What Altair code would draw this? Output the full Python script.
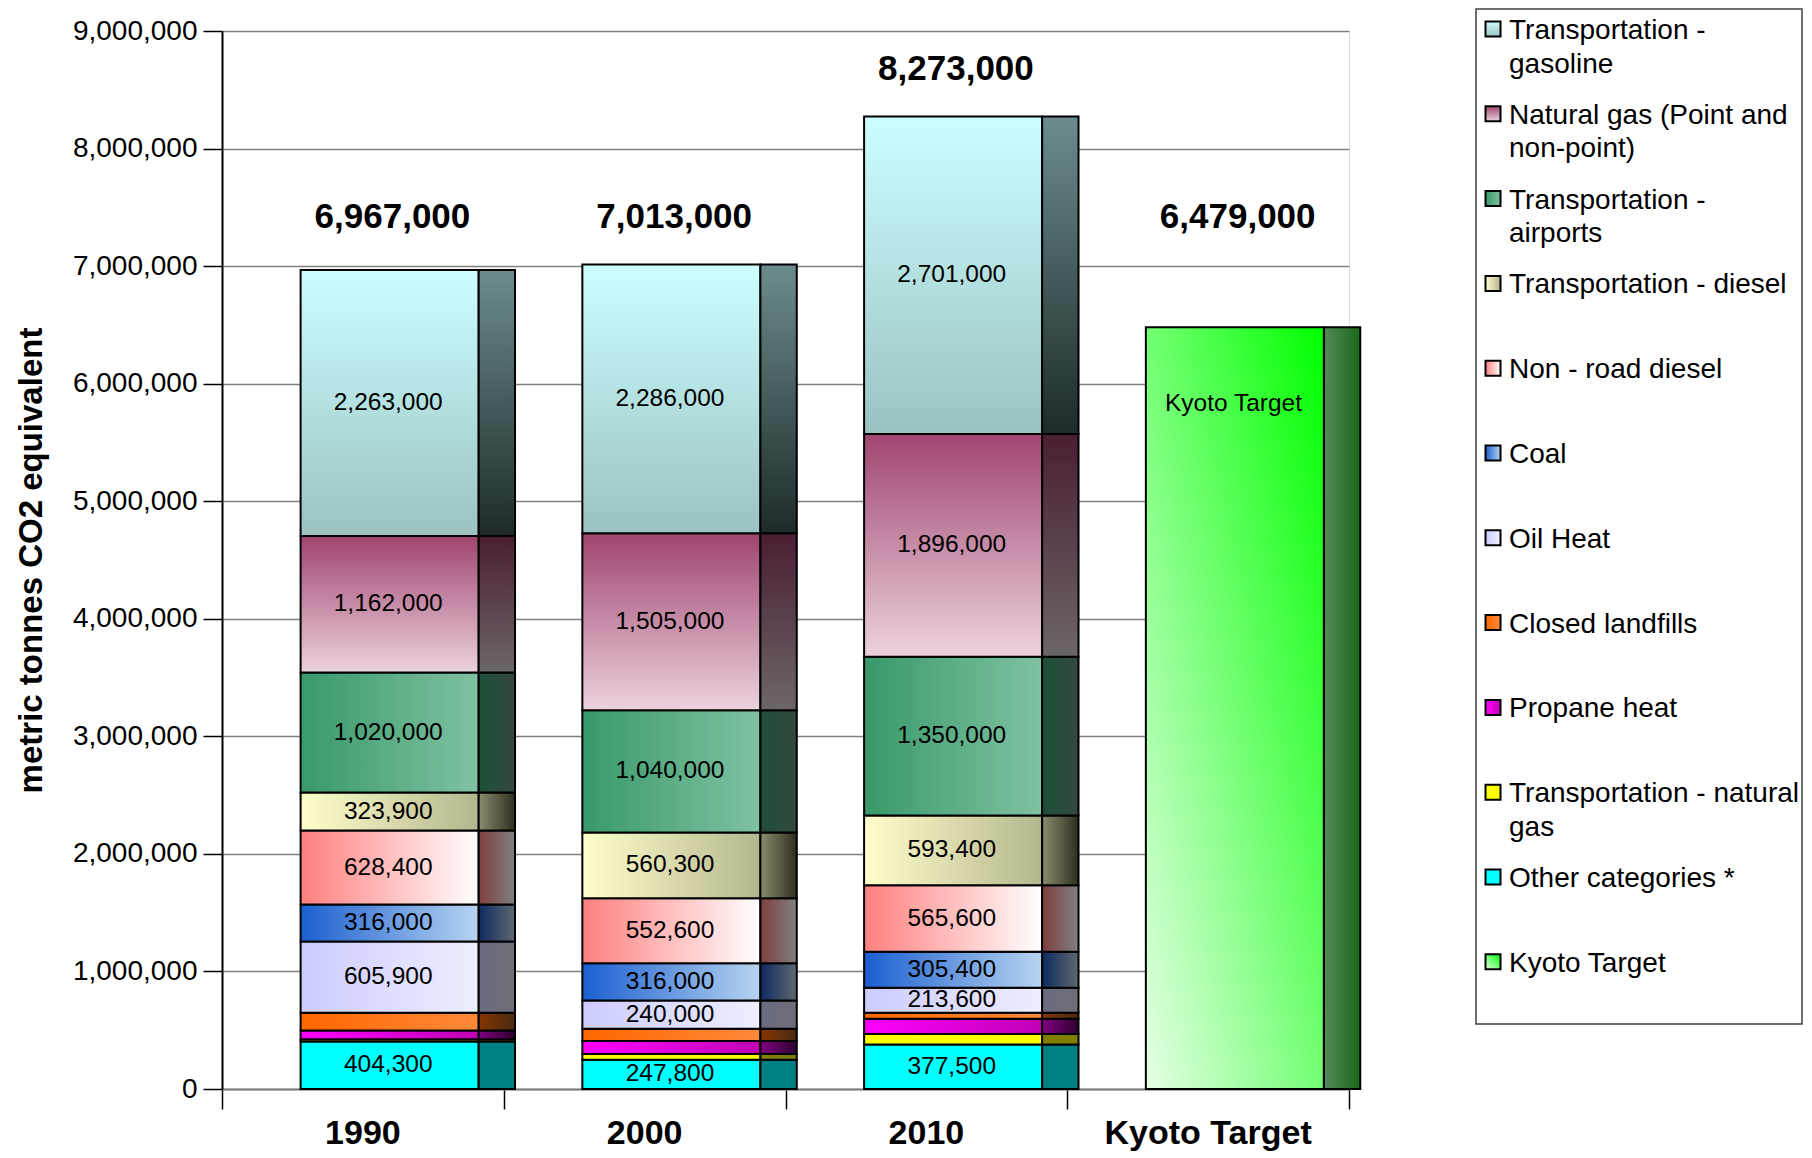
import altair as alt
import pandas as pd

# ---------------- data ----------------
years = ["1990", "2000", "2010"]
x_labels = ["1990", "2000", "2010", "Kyoto Target"]

# stack order: bottom -> top
categories = [
    "Other categories *",
    "Transportation - natural gas",
    "Propane heat",
    "Closed landfills",
    "Oil Heat",
    "Coal",
    "Non - road diesel",
    "Transportation - diesel",
    "Transportation - airports",
    "Natural gas (Point and non-point)",
    "Transportation - gasoline",
]

other = [404300, 247800, 377500]
trans_natgas = [18500, 50300, 90500]
propane = [75000, 110000, 130000]
landfills = [150000, 105000, 50000]
oil_heat = [605900, 240000, 213600]
coal = [316000, 316000, 305400]
nonroad = [628400, 552600, 565600]
diesel = [323900, 560300, 593400]
airports = [1020000, 1040000, 1350000]
natural_gas = [1162000, 1505000, 1896000]
gasoline = [2263000, 2286000, 2701000]

kyoto_target = 6479000
totals = [6967000, 7013000, 8273000, 6479000]

legend_names = [
    "Transportation - gasoline",
    "Natural gas (Point and non-point)",
    "Transportation - airports",
    "Transportation - diesel",
    "Non - road diesel",
    "Coal",
    "Oil Heat",
    "Closed landfills",
    "Propane heat",
    "Transportation - natural gas",
    "Other categories *",
    "Kyoto Target",
]
legend_labels = [
    "Transportation -\ngasoline",
    "Natural gas (Point and\nnon-point)",
    "Transportation -\nairports",
    "Transportation - diesel",
    "Non - road diesel",
    "Coal",
    "Oil Heat",
    "Closed landfills",
    "Propane heat",
    "Transportation - natural\ngas",
    "Other categories *",
    "Kyoto Target",
]

series = [other, trans_natgas, propane, landfills, oil_heat, coal,
          nonroad, diesel, airports, natural_gas, gasoline]

# ---------------- styling ----------------
W, H = 1127, 1058
FRONT_L, FRONT_R, SIDE_R = 0.279, 0.911, 1.040
TEXT_X = 0.59
TOTAL_X = 0.605

styles = {
    "Transportation - gasoline": ("v", "#ccffff", "#9cc2c2", "v", "#6c8c8c", "#1e2a2a"),
    "Natural gas (Point and non-point)": ("v", "#a0456f", "#ecd2de", "v", "#4a1e34", "#6c6668"),
    "Transportation - airports": ("h", "#38996a", "#80c2a2", "h", "#1d5036", "#34483f"),
    "Transportation - diesel": ("h", "#ffffcc", "#b6b68e", "h", "#8c8c70", "#2e2e1e"),
    "Non - road diesel": ("h", "#ff7f7f", "#ffffff", "h", "#7f3f3f", "#808080"),
    "Coal": ("h", "#1a5fd0", "#b8d4f0", "h", "#0e2a60", "#606870"),
    "Oil Heat": ("h", "#ccccff", "#eeeeff", "h", "#6a6a82", "#6e6e76"),
    "Closed landfills": ("h", "#ff6600", "#ff8a3a", "h", "#833600", "#4a2a12"),
    "Propane heat": ("h", "#ff00ff", "#c000b4", "h", "#800080", "#2e002e"),
    "Transportation - natural gas": ("h", "#ffff00", "#ffff00", "h", "#808000", "#808000"),
    "Other categories *": ("h", "#00ffff", "#00ffff", "h", "#008080", "#008080"),
    "Kyoto Target": ("d", "#e6ffe6", "#00ff00", "h", "#568a56", "#18681a"),
}


def grad(direction, c0, c1):
    coords = {"h": (0, 0, 1, 0), "v": (0, 0, 0, 1), "d": (0, 1, 1, 0)}[direction]
    return alt.LinearGradient(
        gradient="linear",
        x1=coords[0], y1=coords[1], x2=coords[2], y2=coords[3],
        stops=[alt.GradientStop(color=c0, offset=0), alt.GradientStop(color=c1, offset=1)],
    )


# ---------------- tables ----------------
rows = []
for yi, yr in enumerate(years):
    base = 0
    for ci, cat in enumerate(categories):
        v = series[ci][yi]
        rows.append(dict(year=yr, idx=yi, category=cat, value=v, y0=base, y1=base + v))
        base += v
rows.append(dict(year="Kyoto Target", idx=3, category="Kyoto Target",
                 value=kyoto_target, y0=0, y1=kyoto_target))
seg = pd.DataFrame(rows)
seg["xa"] = seg["idx"] + FRONT_L
seg["xb"] = seg["idx"] + FRONT_R
seg["xc"] = seg["idx"] + SIDE_R
seg["xm"] = seg["idx"] + TEXT_X
seg["ymid"] = (seg["y0"] + seg["y1"]) / 2
seg["ylab"] = seg["y1"] - 650000

tot = pd.DataFrame(dict(idx=list(range(4)), total=totals))
tot["xt"] = tot["idx"] + TOTAL_X
tot["yt"] = [max(t + 400000, 7420000) for t in totals]

cats = pd.DataFrame(dict(label=x_labels, xc=[i + 0.5 for i in range(4)]))

leg = pd.DataFrame(dict(name=legend_names, label=legend_labels, li=list(range(len(legend_names)))))

# ---------------- shared encodings ----------------
xs = alt.Scale(domain=[0, 4], nice=False, zero=False)
ys = alt.Scale(domain=[0, 9000000], nice=False)
xaxis = alt.Axis(values=[0, 1, 2, 3, 4], labels=False, tickSize=20, tickColor="black",
                 tickWidth=1.5, domainColor="#808080", domainWidth=2, grid=False, title=None)
yaxis = alt.Axis(values=list(range(0, 9000001, 1000000)), format=",d",
                 title="metric tonnes CO2 equivalent", titleFontSize=33, titleFontWeight="bold",
                 titlePadding=24, titleColor="black", labelFontSize=28, labelPadding=6,
                 labelColor="black", tickSize=19, tickColor="black", tickWidth=1.5,
                 domainColor="black", domainWidth=2, grid=True, gridColor="#808080",
                 gridWidth=1.5)


def X(field):
    return alt.X(f"{field}:Q", scale=xs, axis=xaxis, title=None)


def Y(field):
    return alt.Y(f"{field}:Q", scale=ys, axis=yaxis, title="metric tonnes CO2 equivalent")


main_layers = []
for cat in categories + ["Kyoto Target"]:
    fd, f0, f1, sd, s0, s1 = styles[cat]
    b = alt.Chart(seg).transform_filter(alt.datum.category == cat)
    main_layers.append(
        b.mark_bar(fill=grad(fd, f0, f1), stroke="black", strokeWidth=2).encode(
            x=X("xa"), x2="xb", y=Y("y0"), y2="y1")
    )
    main_layers.append(
        b.mark_bar(fill=grad(sd, s0, s1), stroke="black", strokeWidth=2).encode(
            x=X("xb"), x2="xc", y=Y("y0"), y2="y1")
    )

seg_text = alt.Chart(seg).transform_filter(
    "datum.value >= 200000 && datum.category != 'Kyoto Target'"
).mark_text(fontSize=24.5, color="black").encode(
    x=X("xm"), y=Y("ymid"), text=alt.Text("value:Q", format=",d"))

kyoto_text = alt.Chart(seg).transform_filter(
    "datum.category == 'Kyoto Target'"
).mark_text(fontSize=24.5, color="black").encode(
    x=X("xm"), y=Y("ylab"), text="category:N")

total_text = alt.Chart(tot).mark_text(fontSize=35, fontWeight="bold", color="black").encode(
    x=X("xt"), y=Y("yt"), text=alt.Text("total:Q", format=",d"))

cat_text = alt.Chart(cats).mark_text(fontSize=34, fontWeight="bold", color="black",
                                     baseline="middle").encode(
    x=X("xc"), y=alt.value(H + 45), text="label:N")

main = alt.layer(*main_layers, seg_text, kyoto_text, total_text, cat_text)

# ---------------- legend ----------------
LX0, LX1 = 1254, 1580
lys = alt.Scale(domain=[0, 11], range=[-2, -2 + 11 * 84.8])

box = alt.Chart(pd.DataFrame(dict(a=[0]))).mark_rect(
    fill="white", stroke="#404040", strokeWidth=1.5).encode(
    x=alt.value(LX0), x2=alt.value(LX1), y=alt.value(-22), y2=alt.value(993))

leg_layers = [box]
for name in legend_names:
    fd, f0, f1, sd, s0, s1 = styles[name]
    leg_layers.append(
        alt.Chart(leg).transform_filter(alt.datum.name == name).mark_square(
            size=225, fill=grad(fd, f0, f1), stroke="black", strokeWidth=2, opacity=1).encode(
            x=alt.value(1271), y=alt.Y("li:Q", scale=lys, axis=None))
    )
leg_layers.append(
    alt.Chart(leg).mark_text(align="left", baseline="alphabetic", dy=10, fontSize=28,
                             lineBreak="\n", lineHeight=33.5, color="black").encode(
        x=alt.value(1287), y=alt.Y("li:Q", scale=lys, axis=None), text="label:N")
)
legend = alt.layer(*leg_layers)

chart = alt.layer(main, legend).resolve_scale(
    x="independent", y="independent"
).properties(
    width=W, height=H, padding={"left": 7, "top": 0, "right": 0, "bottom": 0}
).configure_view(
    stroke="#808080", strokeWidth=1.5
).configure(font="Liberation Sans")

chart.save("out.html", embed_options={"renderer": "svg", "actions": False})
